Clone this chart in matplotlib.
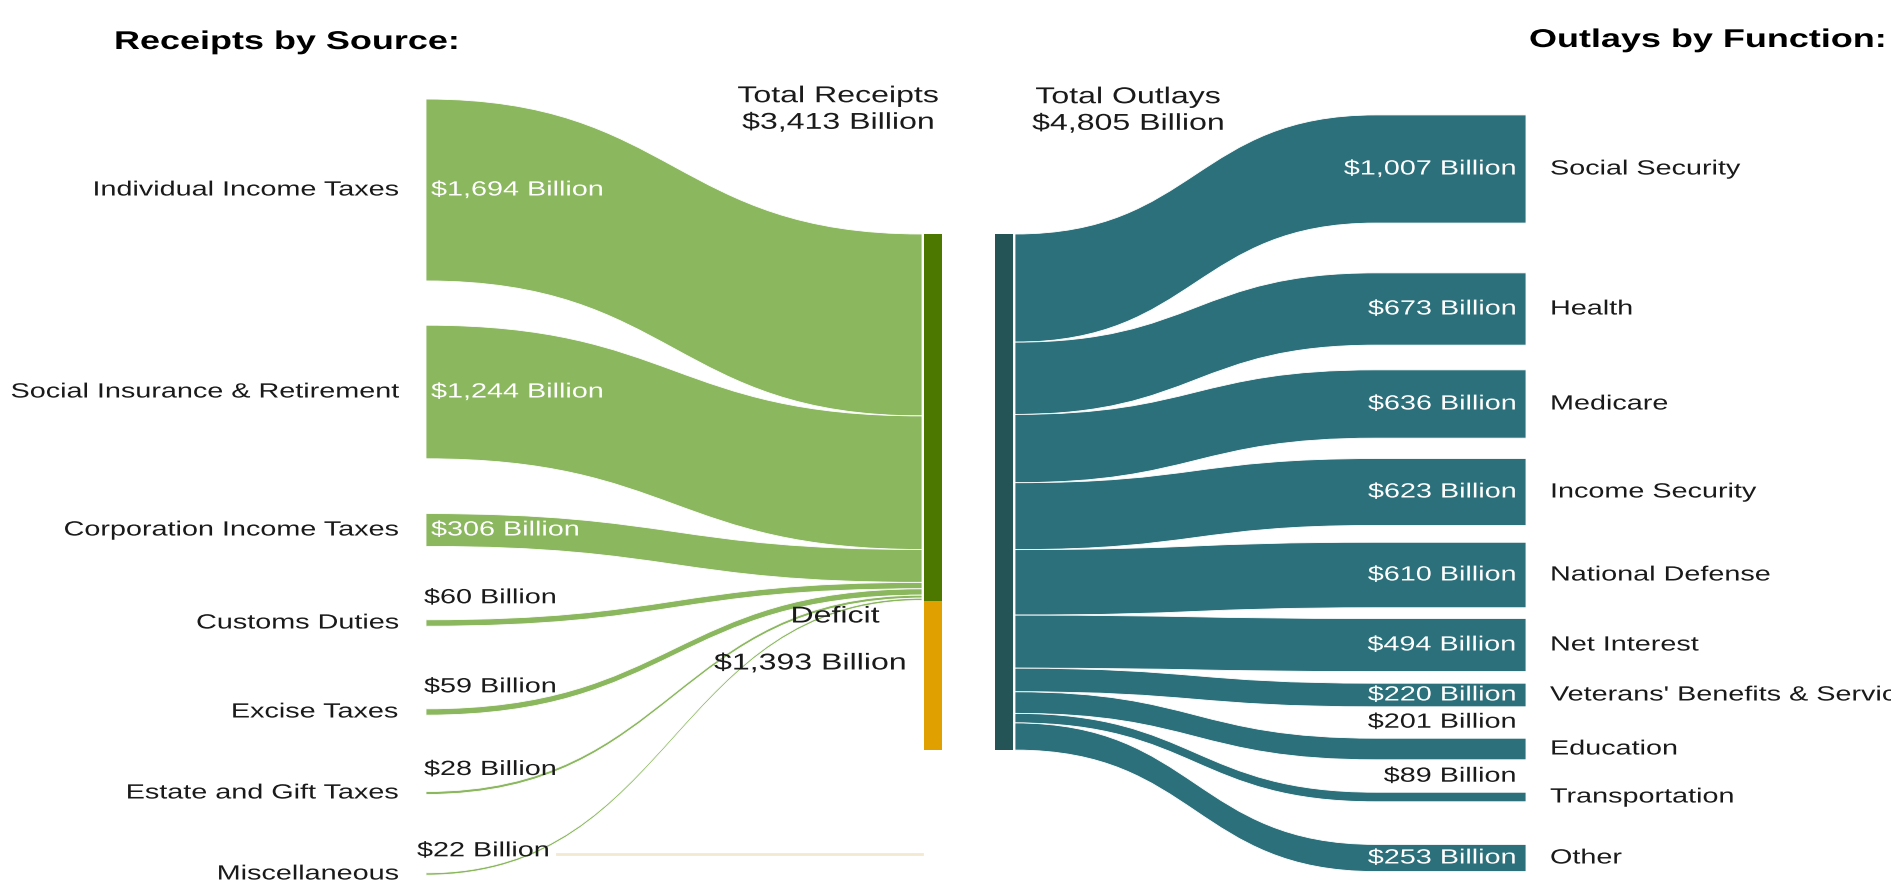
import matplotlib.pyplot as plt
from matplotlib.path import Path
from matplotlib.patches import PathPatch, Rectangle
from matplotlib.patheffects import AbstractPathEffect
from matplotlib.transforms import Affine2D

plt.rcParams['font.family'] = ['Liberation Sans', 'DejaVu Sans']

# receipts by source, billions
sources = ['Individual Income Taxes', 'Social Insurance & Retirement', 'Corporation Income Taxes',
           'Customs Duties', 'Excise Taxes', 'Estate and Gift Taxes', 'Miscellaneous']
receipts = [1694, 1244, 306, 60, 59, 28, 22]

# outlays by function, billions
functions = ['Social Security', 'Health', 'Medicare', 'Income Security', 'National Defense',
             'Net Interest', "Veterans' Benefits & Services", 'Education', 'Transportation', 'Other']
outlays = [1007, 673, 636, 623, 610, 494, 220, 201, 89, 253]

total_receipts = 3413
total_outlays = 4805
deficit = 1393

# layout (pixels)
W, H = 1891, 885
left_centres = [190, 392, 530, 623, 712, 793, 874]
right_centres = [169, 309, 404, 492, 575, 645, 695, 749, 797, 858]
x_src, x_rec_end = 426, 922
rec_bar = (924, 18)
out_bar = (995, 18)
x_out_start, x_fn = 1015, 1526
fn_flat = 150
bar_top = 234
px_per_b = 516 / total_outlays
inside_min = 22.5   # bands thinner than this get their value above

green = '#8BB75E'
dark_green = '#4D7800'
orange = '#E0A000'
teal = '#2B707A'
dark_teal = '#255457'
ink = '#1a1a1a'

WIDE = 1.4      # lettering is set wide
SIZE = 14.8


class Widen(AbstractPathEffect):
    """Stretch glyphs horizontally about the text anchor."""

    def __init__(self, sx, x0):
        super().__init__()
        self.sx = sx
        self.x0 = x0

    def draw_path(self, renderer, gc, tpath, affine, rgbFace=None):
        stretch = Affine2D().translate(-self.x0, 0).scale(self.sx, 1).translate(self.x0, 0)
        renderer.draw_path(gc, tpath, affine + stretch, rgbFace)


def label(ax, x, y, s, size=SIZE, **kw):
    x0 = ax.transData.transform((x, y))[0]
    kw.setdefault('color', ink)
    kw.setdefault('va', 'center')
    return ax.text(x, y, s, fontsize=size, path_effects=[Widen(WIDE, x0)], **kw)


def ribbon(ax, x0, x1, a_top, a_bot, b_top, b_bot, color, flat=0):
    # s-shaped band, optionally ending in a straight run of `flat` pixels
    xe = x1 - flat
    xm = (x0 + xe) / 2
    verts = [(x0, a_top), (xm, a_top), (xm, b_top), (xe, b_top),
             (x1, b_top), (x1, b_bot), (xe, b_bot),
             (xm, b_bot), (xm, a_bot), (x0, a_bot), (x0, a_top)]
    codes = [Path.MOVETO, Path.CURVE4, Path.CURVE4, Path.CURVE4,
             Path.LINETO, Path.LINETO, Path.LINETO,
             Path.CURVE4, Path.CURVE4, Path.CURVE4, Path.CLOSEPOLY]
    ax.add_patch(PathPatch(Path(verts, codes), facecolor=color,
                           edgecolor='#ffffff', linewidth=0.6))


def fmt(v):
    return '${:,} Billion'.format(v)


def main():
    fig = plt.figure(figsize=(W / 100, H / 100), dpi=100)
    ax = fig.add_axes([0, 0, 1, 1])
    ax.set_xlim(0, W)
    ax.set_ylim(H, 0)
    ax.axis('off')

    # receipts -> total receipts bar
    y_in = bar_top
    for name, v, c in zip(sources, receipts, left_centres):
        h = v * px_per_b
        top = c - h / 2
        ribbon(ax, x_src, x_rec_end, top, top + h, y_in, y_in + h, green)
        y_in += h
        label(ax, 398, c, name, ha='right')
        if h > inside_min:
            label(ax, 431, c, fmt(v), ha='left', color='white')
        else:
            lx = 417 if v < 25 else 424
            label(ax, lx, top - 22, fmt(v), ha='left')

    # faint line out of the miscellaneous label
    ax.plot([557, x_rec_end], [left_centres[-1] - 20] * 2, color='#f3e9d2', lw=2, zorder=0)

    rec_h = total_receipts * px_per_b
    def_h = deficit * px_per_b
    ax.add_patch(Rectangle((rec_bar[0], bar_top), rec_bar[1], rec_h, color=dark_green, lw=0))
    ax.add_patch(Rectangle((rec_bar[0], bar_top + rec_h), rec_bar[1], def_h, color=orange, lw=0))

    out_h = sum(outlays) * px_per_b
    ax.add_patch(Rectangle((out_bar[0], bar_top), out_bar[1], out_h, color=dark_teal, lw=0))

    # total outlays bar -> functions
    y_out = bar_top
    for name, v, c in zip(functions, outlays, right_centres):
        h = v * px_per_b
        top = c - h / 2
        ribbon(ax, x_out_start, x_fn, y_out, y_out + h, top, top + h, teal, flat=fn_flat)
        y_out += h
        label(ax, 1550, c, name, ha='left')
        if h > inside_min:
            label(ax, 1516, c, fmt(v), ha='right', color='white')
        else:
            label(ax, 1516, top - 16, fmt(v), ha='right')

    label(ax, 838, 109, 'Total Receipts\n' + fmt(total_receipts), size=16.5,
          ha='center', linespacing=1.2)
    label(ax, 1128, 110, 'Total Outlays\n' + fmt(total_outlays), size=16.5,
          ha='center', linespacing=1.2)
    label(ax, 835, 616, 'Deficit', size=16.5, ha='center')
    label(ax, 810, 663, fmt(deficit), size=16.5, ha='center')

    label(ax, 114, 42, 'Receipts by Source:', size=18.5, ha='left',
          fontweight='bold', color='black')
    label(ax, 1529, 40, 'Outlays by Function:', size=18.5, ha='left',
          fontweight='bold', color='black')

    fig.savefig('out.png', dpi=100, facecolor='white')


if __name__ == '__main__':
    main()
